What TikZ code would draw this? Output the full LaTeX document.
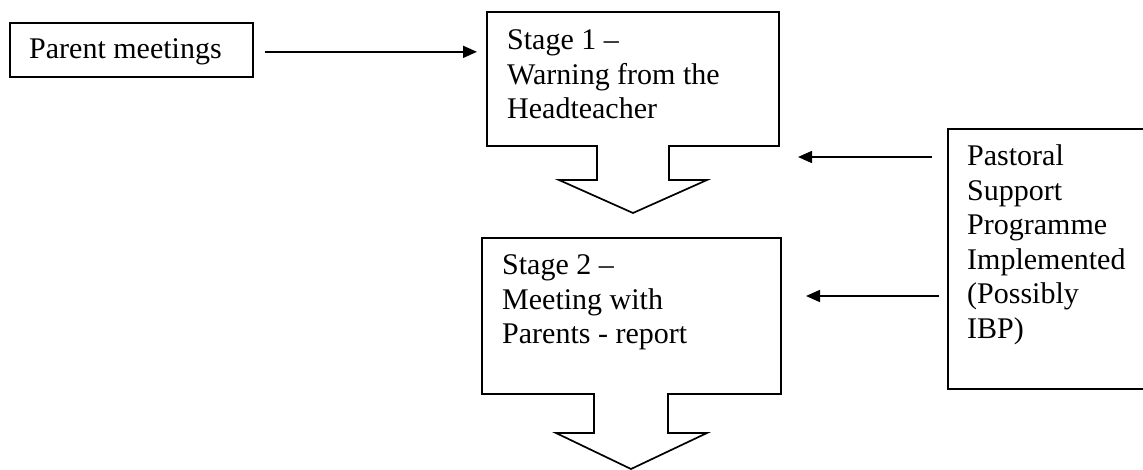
\documentclass[tikz,border=0pt]{standalone}
\usepackage{fontspec}
\setmainfont{Liberation Serif}
\usetikzlibrary{arrows.meta}
\tikzset{
  boxline/.style={draw=black, line width=1.7pt},
  plainbox/.style={boxline, inner sep=0pt, anchor=north west},
  ghostbox/.style={inner sep=0pt, anchor=north west},
  label/.style={inner sep=0pt, align=left, font=\fontsize{30}{34.5}\selectfont},
  arr/.style={line width=1.6pt, -{Triangle[length=14pt,width=12pt]}},
}
\begin{document}
\begin{tikzpicture}[x=1pt,y=-1pt]
\useasboundingbox (0,0) rectangle (1143,470);
\clip (0,0) rectangle (1143,470);
% Parent meetings
\node[plainbox, minimum width=243pt, minimum height=54pt] (pm) at (9,22) {};
\node[label, anchor=base west] (pmt) at (29,59) {Parent meetings};
% Stage 1 callout
\node[ghostbox, minimum width=292pt, minimum height=134pt] (s1) at (487,12) {};
\draw[boxline, line join=miter] (487,12) -- (779,12) -- (779,146) -- (669,146) -- (669,180) -- (707,180) -- (633,213) -- (559,180) -- (597,180) -- (597,146) -- (487,146) -- cycle;
\node[label, anchor=north west] (s1t) at (507,29.5) {Stage 1 –\\Warning from the\\Headteacher};
% Stage 2 callout
\node[ghostbox, minimum width=299pt, minimum height=156pt] (s2) at (482,238) {};
\draw[boxline, line join=miter] (482,238) -- (781,238) -- (781,394) -- (668,394) -- (668,433) -- (707,433) -- (631,469) -- (556,433) -- (594,433) -- (594,394) -- (482,394) -- cycle;
\node[label, anchor=north west] (s2t) at (502,254.5) {Stage 2 –\\Meeting with\\Parents - report};
% Pastoral support box
\node[plainbox, minimum width=210pt, minimum height=260pt] (pss) at (947,128) {};
\node[label, anchor=north west] (psst) at (967,144.5) {Pastoral\\Support\\Programme\\Implemented\\(Possibly\\IBP)};
% connectors
\coordinate (pma) at ([xshift=11pt,yshift=-2pt]pm.east);
\coordinate (s1a) at ([xshift=-10pt]s1.west |- pma);
\draw[arr] (pma) -- (s1a);
\coordinate (p1) at (932,157);
\coordinate (t1) at (798,157);
\coordinate (p2) at (939,296);
\coordinate (t2) at (806,296);
\draw[arr] (p1) -- (t1);
\draw[arr] (p2) -- (t2);
\end{tikzpicture}
\end{document}
